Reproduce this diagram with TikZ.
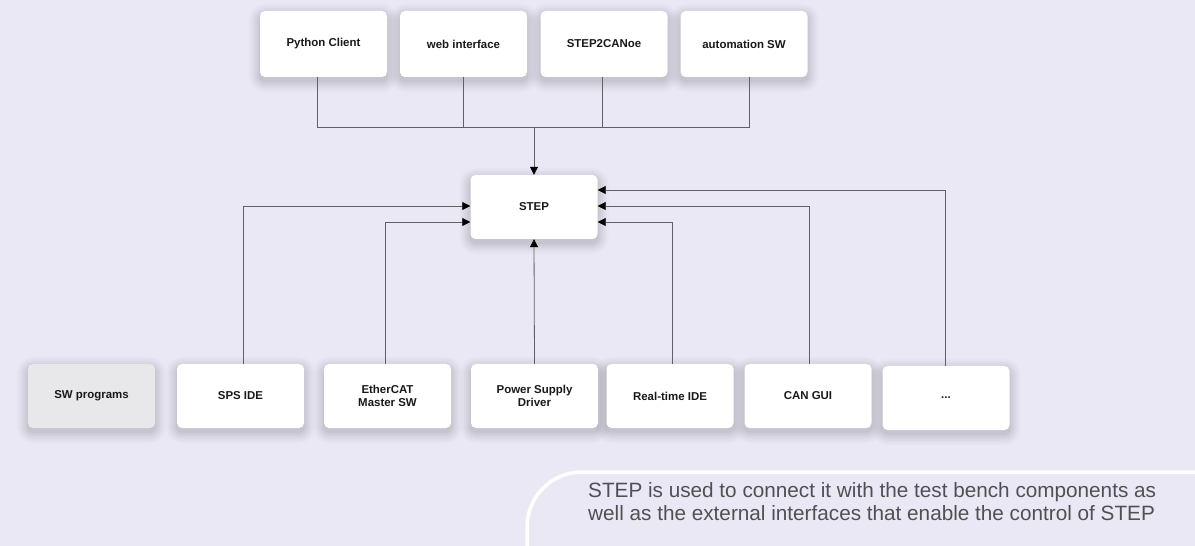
\documentclass[tikz,border=0pt]{standalone}
\usepackage{fontspec}
\setmainfont{Liberation Sans}
\usetikzlibrary{arrows.meta,calc}
\definecolor{bgc}{HTML}{EAE8F4}
\definecolor{linec}{HTML}{606068}
\definecolor{greybox}{HTML}{E8E8EA}
\definecolor{txtc}{HTML}{505054}
\pgfdeclarelayer{bg}
\pgfsetlayers{bg,main}
\newcommand{\softshadow}[1]{%
  \begin{pgfonlayer}{bg}
  \foreach \e/\o in {11/0.015,9/0.018,7/0.022,5/0.026,3/0.03,1/0.034}{
    \fill[black, opacity=\o, rounded corners=6bp+\e bp]
      ([xshift=-\e bp, yshift=-\e bp-4bp]#1.south west) rectangle ([xshift=\e bp, yshift=\e bp-4bp]#1.north east);
  }
  \end{pgfonlayer}}
\tikzset{
  x=1bp, y=-1bp,
  box/.style={draw=none, fill=white, rounded corners=5bp, minimum width=127bp, minimum height=66bp,
    inner sep=2bp, align=center, font=\fontsize{11.5}{14}\selectfont\bfseries, text=black!90},
  bbox/.style={box, minimum height=64bp},
  conn/.style={draw=linec, line width=0.8bp},
  arr/.style={conn, -{Triangle[length=8bp,width=8bp,color=black]}},
}
\begin{document}
\begin{tikzpicture}
\useasboundingbox (0,0) rectangle (1195,546);
\begin{pgfonlayer}{bg}
\fill[bgc] (0,0) rectangle (1195,546);
\end{pgfonlayer}

% top boxes
\node[box] (py)   at (323.5,44) {Python Client};
\node[box] (web)  at (463.5,44) {web interface};
\node[box] (s2c)  at (604,44)   {STEP2CANoe};
\node[box] (auto) at (744,44)   {automation SW};

% central
\node[bbox] (step) at (534,207) {STEP};

% bottom boxes
\node[bbox, fill=greybox] (swp) at (91.5,396) {SW programs};
\node[bbox] (sps)  at (240.5,396) {SPS IDE};
\node[bbox] (eth)  at (387.5,396) {EtherCAT\\[-1bp]Master SW};
\node[bbox] (psd)  at (534.5,396) {Power Supply\\[-1bp]Driver};
\node[bbox] (rt)   at (670,396)   {Real-time IDE};
\node[bbox] (can)  at (808,396)   {CAN GUI};
\node[bbox] (dots) at (946,398)   {...};

\foreach \n in {py,web,s2c,auto,step,swp,sps,eth,psd,rt,can,dots}{\softshadow{\n}}

% bus
\coordinate (bus) at (534,127);
\draw[conn] ([xshift=-6.5bp]py.south) |- (bus);
\draw[conn] (web.south) |- (bus);
\draw[conn] ([xshift=-2bp]s2c.south) |- (bus);
\draw[conn] ([xshift=5bp]auto.south) |- (bus);
\draw[arr] (bus) -- (step.north);

% left inputs
\draw[arr] ([xshift=2.5bp]sps.north) |- ([yshift=1bp]step.west);
\draw[arr] ([xshift=-2.5bp]eth.north) |- ([yshift=-15bp]step.west);
% bottom
\draw[arr] (psd.north) -- (step.south);
% right inputs
\draw[arr] ([xshift=2bp]rt.north) |- ([yshift=-15bp]step.east);
\draw[arr] ([xshift=1bp]can.north) |- ([yshift=1bp]step.east);
\draw[arr] ([xshift=-1bp]dots.north) |- ([yshift=17bp]step.east);

% text panel
\begin{scope}
\clip (0,0) rectangle (1195,546);
\draw[white, line width=3.5bp, rounded corners=55bp] (527,620) |- (1260,472);
\end{scope}
\node[anchor=base west, align=left, inner sep=0pt, text=txtc,
      font=\fontsize{20.8}{23}\selectfont] (desc) at (588,520)
  {STEP is used to connect it with the test bench components as\\
   well as the external interfaces that enable the control of STEP};
\end{tikzpicture}
\end{document}
